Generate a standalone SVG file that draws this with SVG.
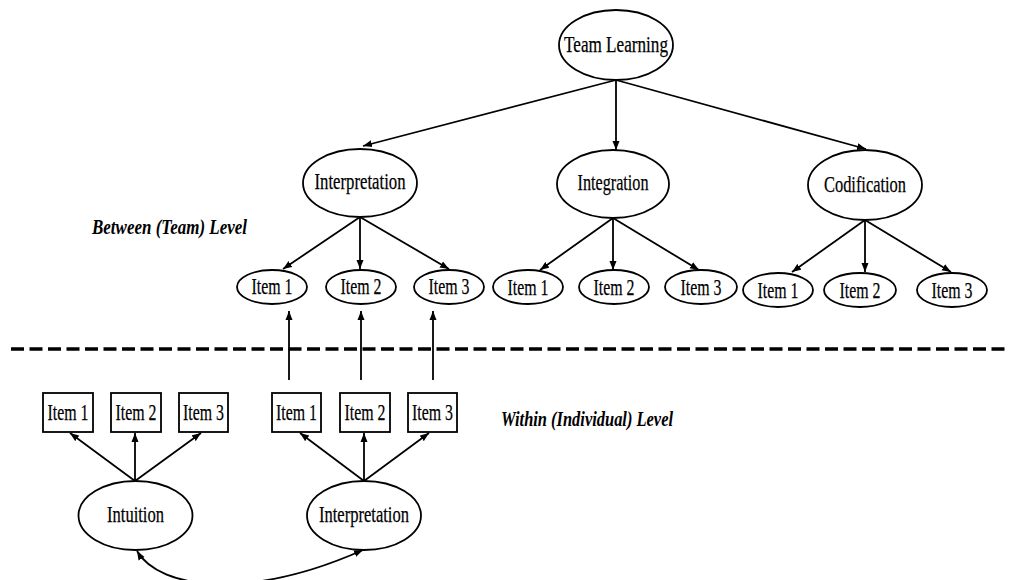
<svg xmlns="http://www.w3.org/2000/svg" width="1010" height="580" viewBox="0 0 1010 580">
<defs>
<marker id="ah" markerUnits="userSpaceOnUse" markerWidth="10" markerHeight="8" refX="9" refY="4" orient="auto-start-reverse">
<path d="M0,0.5 L9,4 L0,7.5 z" fill="#000"/>
</marker>
<style>
.n ellipse, .n rect { fill: #fff; stroke: #000; stroke-width: 1.8; }
.n text { font-family: "Liberation Serif", "Times New Roman", serif; font-size: 24px; fill: #000; stroke: #000; stroke-width: 0.25; text-anchor: middle; }
.lbl { font-family: "Liberation Serif", "Times New Roman", serif; font-size: 22px; font-weight: bold; font-style: italic; fill: #000; }
#connectors line, #connectors path { stroke: #000; stroke-width: 1.8; fill: none; marker-end: url(#ah); }
</style>
</defs>
<rect width="1010" height="580" fill="#fff"/>

<line x1="11" y1="349" x2="1010" y2="349" stroke="#000" stroke-width="3.5" stroke-dasharray="13 5.5"/>

<g id="connectors">
<line x1="616" y1="80" x2="363" y2="146"/>
<line x1="616" y1="80" x2="616" y2="150"/>
<line x1="616" y1="80" x2="866" y2="149"/>
<line x1="360" y1="217" x2="283" y2="269"/>
<line x1="360" y1="217" x2="360" y2="269"/>
<line x1="360" y1="217" x2="449" y2="269"/>
<line x1="613" y1="218" x2="540" y2="270"/>
<line x1="613" y1="218" x2="613" y2="270"/>
<line x1="613" y1="218" x2="699" y2="270"/>
<line x1="865" y1="220" x2="792" y2="272"/>
<line x1="865" y1="220" x2="865" y2="272"/>
<line x1="865" y1="220" x2="951" y2="272"/>
<line x1="289" y1="380" x2="289" y2="311"/>
<line x1="361" y1="380" x2="361" y2="311"/>
<line x1="433" y1="380" x2="433" y2="311"/>
<line x1="135" y1="481" x2="70" y2="433"/>
<line x1="135" y1="481" x2="135" y2="433"/>
<line x1="135" y1="481" x2="201" y2="433"/>
<line x1="364" y1="481" x2="300" y2="433"/>
<line x1="364" y1="481" x2="364" y2="433"/>
<line x1="364" y1="481" x2="429" y2="433"/>
<path d="M137,551 C160,590 250,600 363,550" style="marker-start:url(#ah)"/>
</g>

<g id="team-learning" class="n"><ellipse cx="616" cy="45" rx="57" ry="35"/><text x="616" y="52" textLength="104" lengthAdjust="spacingAndGlyphs">Team Learning</text></g>
<g id="interpretation-team" class="n"><ellipse cx="360" cy="183" rx="57" ry="34"/><text x="360" y="189" textLength="91" lengthAdjust="spacingAndGlyphs">Interpretation</text></g>
<g id="integration" class="n"><ellipse cx="613" cy="184" rx="56" ry="34"/><text x="613" y="190" textLength="71" lengthAdjust="spacingAndGlyphs">Integration</text></g>
<g id="codification" class="n"><ellipse cx="865" cy="185" rx="57" ry="35"/><text x="865" y="192" textLength="82" lengthAdjust="spacingAndGlyphs">Codification</text></g>

<g id="interp-item1" class="n"><ellipse cx="272" cy="287" rx="35" ry="17"/><text x="272" y="294" textLength="41" lengthAdjust="spacingAndGlyphs">Item 1</text></g>
<g id="interp-item2" class="n"><ellipse cx="361" cy="287" rx="35" ry="17"/><text x="361" y="294" textLength="41" lengthAdjust="spacingAndGlyphs">Item 2</text></g>
<g id="interp-item3" class="n"><ellipse cx="449" cy="287" rx="35" ry="17"/><text x="449" y="294" textLength="41" lengthAdjust="spacingAndGlyphs">Item 3</text></g>
<g id="integ-item1" class="n"><ellipse cx="528" cy="287" rx="35" ry="17"/><text x="528" y="295" textLength="41" lengthAdjust="spacingAndGlyphs">Item 1</text></g>
<g id="integ-item2" class="n"><ellipse cx="614" cy="287" rx="35" ry="17"/><text x="614" y="295" textLength="41" lengthAdjust="spacingAndGlyphs">Item 2</text></g>
<g id="integ-item3" class="n"><ellipse cx="701" cy="287" rx="36" ry="17"/><text x="701" y="295" textLength="41" lengthAdjust="spacingAndGlyphs">Item 3</text></g>
<g id="codif-item1" class="n"><ellipse cx="778" cy="290" rx="35" ry="17"/><text x="778" y="298" textLength="41" lengthAdjust="spacingAndGlyphs">Item 1</text></g>
<g id="codif-item2" class="n"><ellipse cx="860" cy="290" rx="36" ry="17"/><text x="860" y="298" textLength="41" lengthAdjust="spacingAndGlyphs">Item 2</text></g>
<g id="codif-item3" class="n"><ellipse cx="952" cy="290" rx="35" ry="17"/><text x="952" y="298" textLength="41" lengthAdjust="spacingAndGlyphs">Item 3</text></g>

<g id="intu-item1" class="n"><rect x="43" y="393" width="50" height="39"/><text x="68" y="420" textLength="41" lengthAdjust="spacingAndGlyphs">Item 1</text></g>
<g id="intu-item2" class="n"><rect x="111" y="393" width="50" height="39"/><text x="136" y="420" textLength="41" lengthAdjust="spacingAndGlyphs">Item 2</text></g>
<g id="intu-item3" class="n"><rect x="179" y="393" width="49" height="39"/><text x="203.5" y="420" textLength="41" lengthAdjust="spacingAndGlyphs">Item 3</text></g>
<g id="indiv-item1" class="n"><rect x="272" y="393" width="49" height="39"/><text x="296.5" y="420" textLength="41" lengthAdjust="spacingAndGlyphs">Item 1</text></g>
<g id="indiv-item2" class="n"><rect x="340" y="393" width="50" height="39"/><text x="365" y="420" textLength="41" lengthAdjust="spacingAndGlyphs">Item 2</text></g>
<g id="indiv-item3" class="n"><rect x="408" y="393" width="49" height="39"/><text x="432.5" y="420" textLength="41" lengthAdjust="spacingAndGlyphs">Item 3</text></g>

<g id="intuition" class="n"><ellipse cx="135.5" cy="515.5" rx="57" ry="34.5"/><text x="135.5" y="522" textLength="57" lengthAdjust="spacingAndGlyphs">Intuition</text></g>
<g id="interpretation-indiv" class="n"><ellipse cx="364" cy="515.5" rx="57" ry="34.5"/><text x="364" y="522" textLength="90" lengthAdjust="spacingAndGlyphs">Interpretation</text></g>

<text class="lbl" x="92" y="234" textLength="155" lengthAdjust="spacingAndGlyphs">Between (Team) Level</text>
<text class="lbl" x="501" y="426" textLength="172" lengthAdjust="spacingAndGlyphs">Within (Individual) Level</text>
</svg>
